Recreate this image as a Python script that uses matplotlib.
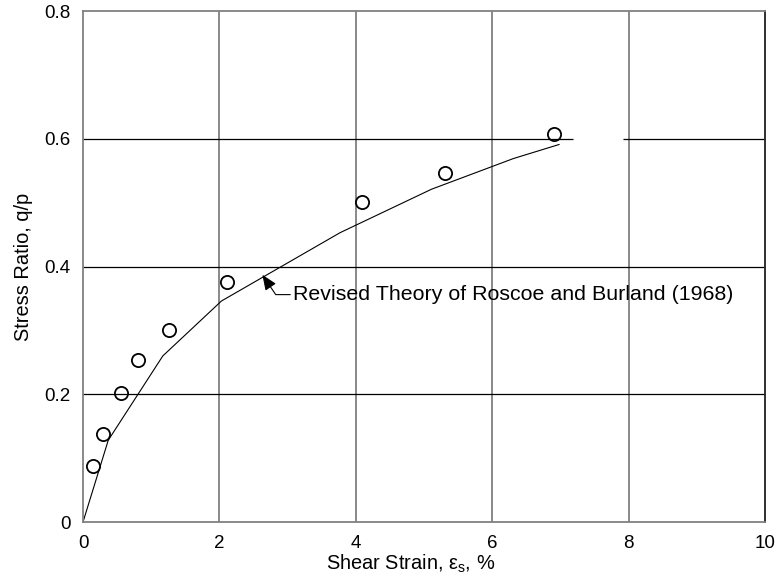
import numpy as np
import matplotlib
matplotlib.use("Agg")
import matplotlib.pyplot as plt

plt.rcParams['font.family'] = ['Liberation Sans', 'DejaVu Sans']
plt.rcParams['mathtext.fontset'] = 'custom'
plt.rcParams['mathtext.rm'] = 'Liberation Sans'
plt.rcParams['mathtext.it'] = 'Liberation Sans'

# measured points
strain_meas = [0.14, 0.29, 0.55, 0.81, 1.26, 2.11, 4.09, 5.31, 6.90]
ratio_meas = [0.088, 0.138, 0.202, 0.254, 0.300, 0.376, 0.501, 0.547, 0.607]

# revised theory curve
strain_theory = [0.0, 0.37, 1.17, 2.03, 3.77, 5.11, 6.31, 6.98]
ratio_theory = [0.0, 0.128, 0.260, 0.346, 0.453, 0.521, 0.569, 0.591]

xticks = [0, 2, 4, 6, 8, 10]
xticklabels = ['0', '2', '4', '6', '8', '10']
yticks = [0, 0.2, 0.4, 0.6, 0.8]
yticklabels = ['0', '0.2', '0.4', '0.6', '0.8']

fig = plt.figure(figsize=(7.78, 5.86), dpi=100)
ax = fig.add_axes([0.1067, 0.1092, 0.8766, 0.872])

ax.set_xlim(0, 10)
ax.set_ylim(0, 0.8)

# grid: vertical grey, horizontal black
for xv in xticks[1:-1]:
    ax.axvline(xv, color='#808080', lw=1.3, zorder=1)
for yv in yticks[1:-1]:
    ax.axhline(yv, color='black', lw=0.9, zorder=1)
# blank patch on the 0.6 line
ax.plot([7.18, 7.92], [0.6, 0.6], color='white', lw=2.5, zorder=1.5,
        solid_capstyle='butt')

ax.plot(strain_theory, ratio_theory, color='black', lw=0.8, zorder=2)
ax.plot(strain_meas, ratio_meas, 'o', ms=9.5, mfc='none', mec='black',
        mew=1.3, zorder=3)

ax.annotate('Revised Theory of Roscoe and Burland (1968)',
            xy=(2.63, 0.387), xytext=(3.08, 0.356),
            ha='left', va='center', fontsize=15.4,
            arrowprops=dict(arrowstyle='-|>,head_length=0.6,head_width=0.25',
                            color='black', lw=0.8, relpos=(0, 0.5),
                            shrinkA=0, shrinkB=0,
                            connectionstyle='angle,angleA=0,angleB=124,rad=0'),
            zorder=4)

ax.set_xticks(xticks)
ax.set_xticklabels(xticklabels)
ax.set_yticks(yticks)
ax.set_yticklabels(yticklabels)
ax.tick_params(length=0, labelsize=13.5, pad=9)

ax.set_xlabel(r'Shear Strain, $\mathrm{ε}_\mathrm{s}$, %', fontsize=14.4, labelpad=1)
ax.xaxis.label.set_x(0.48)
ax.set_ylabel('Stress Ratio, q/p', fontsize=14.4, labelpad=8)

for side in ['left', 'bottom', 'top']:
    ax.spines[side].set_color('#808080')
    ax.spines[side].set_linewidth(1.3)
ax.spines['right'].set_color('#202020')
ax.spines['right'].set_linewidth(1.3)

fig.savefig('out.png', dpi=100)
plt.close(fig)
